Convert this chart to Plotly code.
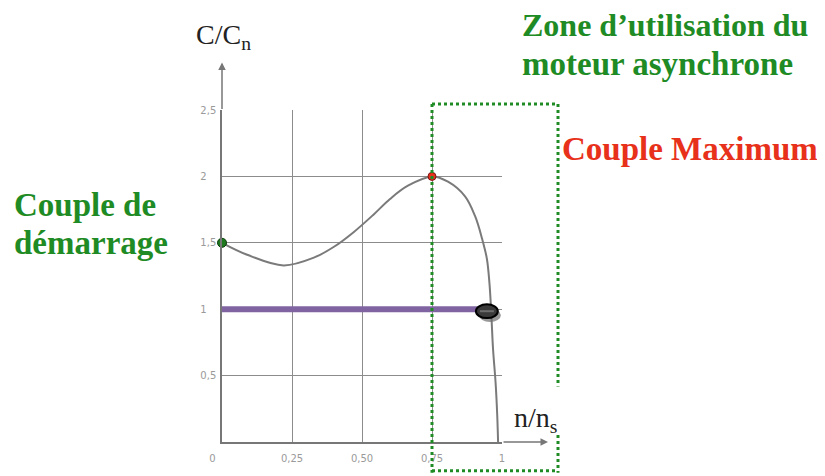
import plotly.graph_objects as go

# ---- data ----
curve_x = [0.0, 0.09, 0.22, 0.33, 0.40, 0.47, 0.54, 0.60, 0.664, 0.75, 0.807, 0.868, 0.904, 0.929, 0.946, 0.955, 0.961, 0.968, 0.977, 0.983, 0.986]
curve_y = [1.50, 1.41, 1.33, 1.39, 1.47, 1.58, 1.71, 1.83, 1.93, 2.00, 1.96, 1.85, 1.70, 1.53, 1.38, 1.20, 1.00, 0.70, 0.45, 0.20, 0.0]
start_point = (0.0, 1.5)
max_point = (0.75, 2.0)
nominal_x = [0.0, 0.93]
nominal_y = [1.0, 1.0]
x_tickvals = [0, 0.25, 0.5, 0.75, 1]
x_ticktext = ["0\u2007\u2007\u2007", "0,25", "0,50", "0,75", "1"]
y_tickvals = [0.5, 1, 1.5, 2, 2.5]
y_ticktext = ["0,5", "1\u2008\u2007", "1,5", "2\u2008\u2007", "2,5"]

OFF = 8  # default page body margin
W, H = 825 - OFF, 476 - OFF
L, R, T, B = 222 - OFF, 502 - OFF, 110 - OFF, 445 - OFF


def px(x):
    return (x - OFF - L) / (R - L)


def py(y):
    return (B - (y - OFF)) / (B - T)


GREEN = "#1E8B24"
RED = "#E8311A"
GRID = "#8c8c8c"

fig = go.Figure()
fig.add_trace(go.Scatter(x=curve_x, y=curve_y, mode="lines",
                         line=dict(color="#7a7a7a", width=2, shape="spline", smoothing=1.0),
                         hoverinfo="skip"))
fig.add_trace(go.Scatter(x=nominal_x, y=nominal_y, mode="lines",
                         line=dict(color="#8064A2", width=6), hoverinfo="skip"))
fig.add_trace(go.Scatter(x=[start_point[0]], y=[start_point[1]], mode="markers", cliponaxis=False,
                         marker=dict(color="#1F7A1F", size=9, line=dict(color="#0b3b0b", width=1))))
fig.add_trace(go.Scatter(x=[max_point[0]], y=[max_point[1]], mode="markers", cliponaxis=False,
                         marker=dict(color=RED, size=8, line=dict(color="#7a1010", width=1))))

shapes = []
# ellipse marker at operating point (shadow, body, band)
ex, ey = 0.946, 0.985
rx, ry = 0.039, 0.052
shapes.append(dict(type="circle", xref="x", yref="y", x0=ex - rx + 0.011, x1=ex + rx + 0.011,
                   y0=ey - ry - 0.03, y1=ey + ry - 0.03, fillcolor="rgba(110,110,110,0.7)", line=dict(width=0)))
shapes.append(dict(type="circle", xref="x", yref="y", x0=ex - rx, x1=ex + rx, y0=ey - ry, y1=ey + ry,
                   fillcolor="#3a3a3a", line=dict(color="#000000", width=2)))
shapes.append(dict(type="line", xref="x", yref="y", x0=ex - 0.025, x1=ex + 0.025, y0=ey, y1=ey,
                   line=dict(color="#6e6e6e", width=2)))

# green dotted zone
dot = dict(color=GREEN, width=3, dash="dot")
for (x0, y0, x1, y1) in [(432, 104, 432, 476), (432, 104, 558, 104), (558, 104, 558, 389),
                         (558, 438, 558, 476), (432, 474, 558, 474)]:
    shapes.append(dict(type="line", xref="paper", yref="paper", x0=px(x0), y0=py(y0), x1=px(x1), y1=py(y1),
                       line=dot, layer="above"))

annotations = []
# axis arrows
annotations.append(dict(xref="paper", yref="paper", x=px(222), y=py(62), ax=0, ay=48, axref="pixel", ayref="pixel",
                        showarrow=True, arrowhead=2, arrowsize=1, arrowwidth=1.5, arrowcolor="#777777", text=""))
annotations.append(dict(xref="paper", yref="paper", x=px(548), y=py(445), ax=-46, ay=0, axref="pixel", ayref="pixel",
                        showarrow=True, arrowhead=2, arrowsize=1, arrowwidth=1.5, arrowcolor="#777777", text=""))

serif = "Liberation Serif"


def label(text, x, y, color, size=33, anchor="left"):
    annotations.append(dict(xref="paper", yref="paper", x=px(x), y=py(y), text=text, showarrow=False,
                            xanchor=anchor, yanchor="middle", font=dict(family=serif, size=size, color=color)))


label("<b>Zone d’utilisation du</b>", 520, 24, GREEN, size=32)
label("<b>moteur asynchrone</b>", 520, 64, GREEN)
label("<b>Couple Maximum</b>", 560, 149, RED)
label("<b>Couple de</b>", 12, 206, GREEN)
label("<b>démarrage</b>", 12, 244, GREEN)
label("C/C<sub>n</sub>", 194, 36, "#222222", size=28)
label("n/n<sub>s</sub>", 512, 422, "#222222", size=28)

fig.update_layout(
    width=W, height=H, margin=dict(l=L, r=W - R, t=T, b=H - B),
    paper_bgcolor="white", plot_bgcolor="white", showlegend=False,
    shapes=shapes, annotations=annotations,
    xaxis=dict(range=[0, 1], tickvals=x_tickvals, ticktext=x_ticktext, showgrid=True, gridcolor=GRID,
               gridwidth=1, showline=True, linecolor="#777777", linewidth=1.5, mirror=False, zeroline=False,
               ticks="", ticklabelstandoff=6, tickfont=dict(family="DejaVu Sans", size=10, color="#9a9a9a"),
               fixedrange=True),
    yaxis=dict(range=[0, 2.5], tickvals=y_tickvals, ticktext=y_ticktext, showgrid=True, gridcolor=GRID,
               gridwidth=1, showline=True, linecolor="#777777", linewidth=1.5, zeroline=False,
               ticks="", ticklabelstandoff=2, tickfont=dict(family="DejaVu Sans", size=10, color="#9a9a9a"),
               fixedrange=True),
)

fig.write_html("out.html")
